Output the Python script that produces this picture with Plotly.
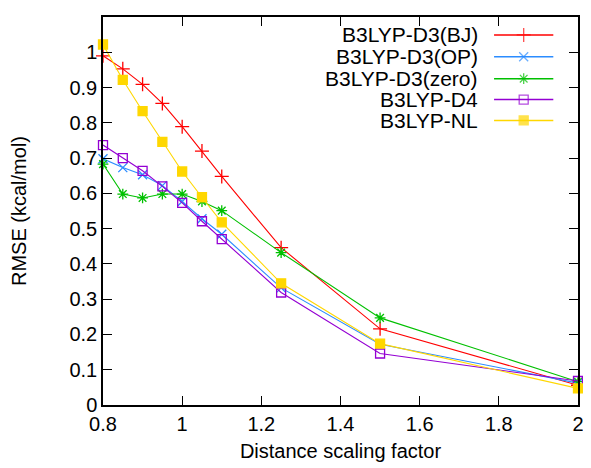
import plotly.graph_objects as go

x_vals = [0.8, 0.85, 0.9, 0.95, 1.0, 1.05, 1.1, 1.25, 1.5, 2.0]
bj = [0.990, 0.953, 0.909, 0.855, 0.789, 0.720, 0.648, 0.446, 0.216, 0.056]
op = [0.698, 0.673, 0.653, 0.622, 0.577, 0.528, 0.484, 0.332, 0.172, 0.062]
zero = [0.683, 0.598, 0.587, 0.598, 0.598, 0.577, 0.551, 0.432, 0.247, 0.066]
d4 = [0.737, 0.700, 0.664, 0.620, 0.573, 0.521, 0.470, 0.319, 0.146, 0.068]
nl = [1.022, 0.922, 0.833, 0.746, 0.662, 0.589, 0.518, 0.345, 0.174, 0.047]

names = ["B3LYP-D3(BJ)", "B3LYP-D3(OP)", "B3LYP-D3(zero)", "B3LYP-D4", "B3LYP-NL"]
series = [bj, op, zero, d4, nl]
colors = ["#ff0000", "#2b8cff", "#00c000", "#9400d3", "#ffd700"]
symbols = ["cross-thin", "x-thin", "asterisk", "square-open", "square"]
sizes = [10, 9, 9, 9, 9]

x_ticks = [0.8, 1.0, 1.2, 1.4, 1.6, 1.8, 2.0]
x_tick_text = ["0.8", "1", "1.2", "1.4", "1.6", "1.8", "2"]
y_ticks = [0, 0.1, 0.2, 0.3, 0.4, 0.5, 0.6, 0.7, 0.8, 0.9, 1.0, 1.1]
y_tick_text = ["0", "0.1", "0.2", "0.3", "0.4", "0.5", "0.6", "0.7", "0.8", "0.9", "1", "1.1"]

FONT = "Liberation Sans, Arial, Helvetica, sans-serif"

X_RANGE = [0.8, 2.0]
Y_RANGE = [0.0, 1.1]
# page body has an 8px default margin; size the figure so it fits the window
PAGE_OFF = 8
W, H = 591 - PAGE_OFF, 468 - PAGE_OFF
# plot-area frame in window pixels
LEFT, RIGHT, TOP, BOTTOM = 101, 582, 15, 405
# key layout in window pixels
key_rows = [33, 55, 77, 98, 119]
key_sample = [497, 527, 557]
key_text_right = 483


def px_to_x(p):
    return X_RANGE[0] + (p - LEFT) / (RIGHT - LEFT) * (X_RANGE[1] - X_RANGE[0])


def px_to_y(p):
    return Y_RANGE[0] + (BOTTOM - p) / (BOTTOM - TOP) * (Y_RANGE[1] - Y_RANGE[0])


fig = go.Figure()
for name, ys, c, s, sz in zip(names, series, colors, symbols, sizes):
    fig.add_trace(go.Scatter(
        x=x_vals, y=ys, mode="lines+markers", name=name,
        line=dict(color=c, width=1.1),
        marker=dict(symbol=s, size=sz, color=c, line=dict(color=c, width=1.3)),
        showlegend=False, cliponaxis=False,
    ))

# gnuplot-style key: text on the left, sample on the right
for name, c, s, sz, ky in zip(names, colors, symbols, sizes, key_rows):
    yk = px_to_y(ky)
    fig.add_trace(go.Scatter(
        x=[px_to_x(p) for p in key_sample], y=[yk] * 3,
        mode="lines+markers", line=dict(color=c, width=1.5),
        marker=dict(symbol=s, size=[0, sz, 0], color=c, line=dict(color=c, width=1.3)),
        showlegend=False, hoverinfo="skip",
    ))
    fig.add_annotation(
        x=px_to_x(key_text_right), y=yk,
        text=name, showarrow=False, xanchor="right", yanchor="middle",
        font=dict(family=FONT, size=21, color="black"),
    )

axis_common = dict(
    showline=True, linecolor="black", linewidth=1.5, mirror="allticks",
    ticks="inside", ticklen=9, tickwidth=1, tickcolor="black",
    showgrid=False, zeroline=False,
    tickfont=dict(family=FONT, size=20, color="black"),
)

fig.update_layout(
    width=W, height=H,
    margin=dict(l=LEFT - PAGE_OFF, r=591 - RIGHT, t=TOP - PAGE_OFF, b=468 - BOTTOM),
    paper_bgcolor="white", plot_bgcolor="white",
    xaxis=dict(range=X_RANGE, tickvals=x_ticks, ticktext=x_tick_text,
               title=dict(text="Distance scaling factor", standoff=10,
                          font=dict(family=FONT, size=20, color="black")),
               **axis_common),
    yaxis=dict(range=Y_RANGE, tickvals=y_ticks, ticktext=y_tick_text,
               title=dict(text="RMSE (kcal/mol)", standoff=40,
                          font=dict(family=FONT, size=20, color="black")),
               **axis_common),
)

fig.write_html("out.html")
